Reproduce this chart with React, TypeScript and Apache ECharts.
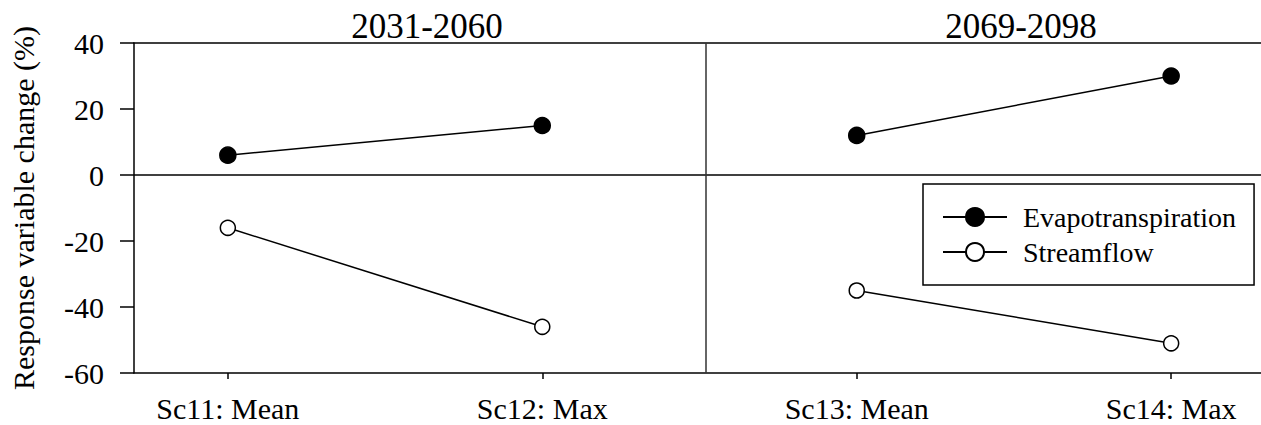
import React, { useEffect, useRef } from "react";
import * as echarts from "echarts";

const categories = ["Sc11: Mean", "Sc12: Max", "Sc13: Mean", "Sc14: Max"];
const categoryPositions = [1, 2, 3, 4];
const periods = ["2031-2060", "2069-2098"];
const evapotranspiration = [6, 15, 12, 30];
const streamflow = [-16, -46, -35, -51];
const yTicks = { min: -60, max: 40, interval: 20 };

const FONT = "Liberation Serif, Times New Roman, serif";

export default function App() {
  const ref = useRef<HTMLDivElement>(null);
  useEffect(() => {
    document.body.style.margin = "0";
    const chart = echarts.init(ref.current!, null, { renderer: "svg" });

    const pair = (vals: number[], p: number) =>
      [0, 1].map((k) => [categoryPositions[p * 2 + k], vals[p * 2 + k]]);

    const lineStyle = { color: "#000", width: 1.5 };
    const series: any[] = [];
    periods.forEach((_, p) => {
      series.push({
        name: "Evapotranspiration",
        type: "line",
        data: pair(evapotranspiration, p),
        symbol: "circle",
        symbolSize: 16,
        lineStyle,
        itemStyle: { color: "#000", borderColor: "#000", borderWidth: 1.5 },
        z: 5,
      });
      series.push({
        name: "Streamflow",
        type: "line",
        data: pair(streamflow, p),
        symbol: "circle",
        symbolSize: 15,
        lineStyle,
        itemStyle: { color: "#fff", borderColor: "#000", borderWidth: 1.5 },
        z: 5,
      });
    });
    series.push({
      type: "line",
      data: [],
      silent: true,
      markLine: {
        symbol: "none",
        silent: true,
        label: { show: false },
        lineStyle: { color: "#000", width: 1.5, type: "solid" },
        data: [{ yAxis: 0 }, { xAxis: 2.524, lineStyle: { color: "#333", width: 1.5 } }],
      },
    });

    const option: any = {
      animation: false,
      textStyle: { fontFamily: FONT, color: "#000" },
      grid: { left: 132, top: 43, right: 0, bottom: 52 },
      xAxis: [
        {
          type: "value",
          min: 1 - 94 / 315,
          max: 1 + (1261 - 226) / 315,
          splitLine: { show: false },
          axisLine: { show: true, onZero: false, lineStyle: { color: "#000", width: 1.5 } },
          axisTick: { show: true, customValues: categoryPositions, length: 6, lineStyle: { color: "#000", width: 1.5 } },
          axisLabel: {
            customValues: categoryPositions,
            formatter: (v: number) => categories[categoryPositions.indexOf(v)] ?? "",
            fontSize: 30,
            fontFamily: FONT,
            color: "#000",
            margin: 20,
          },
        },
        {
          type: "value",
          position: "top",
          min: 1 - 94 / 315,
          max: 1 + (1261 - 226) / 315,
          splitLine: { show: false },
          axisLine: { show: true, onZero: false, lineStyle: { color: "#000", width: 1.5 } },
          axisTick: { show: false },
          axisLabel: { show: false },
        },
      ],
      yAxis: {
        type: "value",
        min: yTicks.min,
        max: yTicks.max,
        interval: yTicks.interval,
        splitLine: { show: false },
        name: "Response variable change (%)",
        nameLocation: "middle",
        nameGap: 96,
        nameTextStyle: { fontSize: 30, fontFamily: FONT, color: "#000" },
        axisLine: { show: true, onZero: false, lineStyle: { color: "#000", width: 1.5 } },
        axisTick: { show: true, length: 14, lineStyle: { color: "#000", width: 1.5 } },
        axisLabel: { fontSize: 30, fontFamily: FONT, color: "#000", margin: 30 },
      },
      legend: {
        data: ["Evapotranspiration", "Streamflow"],
        orient: "vertical",
        left: 923,
        top: 184,
        padding: [19, 18, 19, 19],
        itemGap: 7,
        itemWidth: 64,
        itemHeight: 22.5,
        borderColor: "#000",
        borderWidth: 1.5,
        textStyle: { fontSize: 28, fontFamily: FONT, color: "#000", padding: [0, 0, 0, 11] },
      },
      graphic: periods.map((t, i) => ({
        type: "text",
        x: i === 0 ? 427 : 1021,
        y: 26,
        style: {
          text: t,
          fontSize: 35,
          fontFamily: FONT,
          fill: "#000",
          textAlign: "center",
          textVerticalAlign: "middle",
        },
      })),
      series,
    };
    chart.setOption(option);
    return () => chart.dispose();
  }, []);
  return <div ref={ref} style={{ width: 1261, height: 425 }} />;
}
